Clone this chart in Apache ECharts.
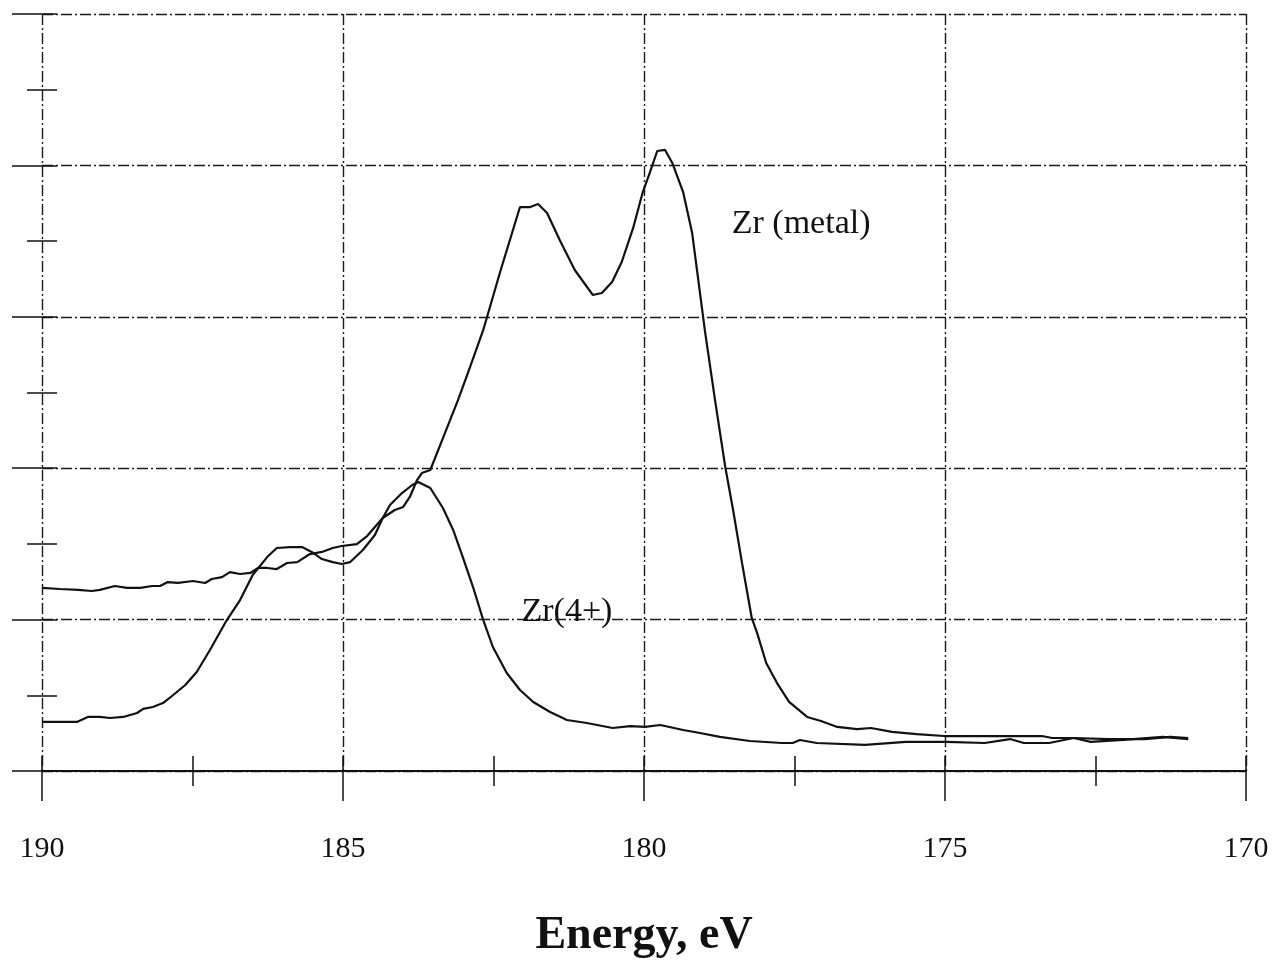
<!DOCTYPE html>
<html>
<head>
<meta charset="utf-8">
<script src="https://cdn.jsdelivr.net/npm/echarts@6/dist/echarts.min.js"></script>
<style>
html,body{margin:0;padding:0;background:#fff;}
#chart{width:1283px;height:961px;}
</style>
</head>
<body>
<div id="chart"></div>
<script>
// X axis (binding energy, eV, reversed)
const xMin = 170, xMax = 190, xInterval = 5;
const xAxisTitle = 'Energy, eV';
// Y axis (arbitrary intensity units, unlabeled)
const yMin = 0, yMax = 5, yInterval = 1;

// Zr (metal) spectrum
const metalEnergy = [190.00,189.70,189.40,189.17,189.04,188.79,188.59,188.37,188.17,188.04,187.91,187.74,187.49,187.29,187.18,187.01,186.88,186.71,186.54,186.41,186.26,186.10,185.93,185.76,185.55,185.35,185.17,185.02,184.77,184.60,184.34,184.14,184.00,183.89,183.77,183.69,183.55,183.32,183.09,182.89,182.67,182.39,182.06,181.89,181.76,181.61,181.40,181.15,180.85,180.70,180.53,180.37,180.18,180.02,179.90,179.78,179.65,179.53,179.35,179.20,178.99,178.82,178.65,178.52,178.36,178.21,178.12,177.97,177.79,177.59,177.29,177.06,176.79,176.46,176.23,175.88,175.47,175.02,174.34,173.39,173.22,172.86,172.28,171.68,171.26,170.96];
const metalIntensity = [1.209,1.202,1.196,1.189,1.196,1.222,1.209,1.209,1.222,1.222,1.248,1.242,1.255,1.242,1.268,1.281,1.314,1.301,1.308,1.341,1.341,1.334,1.374,1.380,1.433,1.447,1.473,1.486,1.499,1.552,1.671,1.724,1.744,1.810,1.922,1.968,1.988,2.219,2.450,2.668,2.913,3.296,3.725,3.725,3.745,3.686,3.507,3.309,3.144,3.157,3.230,3.362,3.587,3.824,3.956,4.095,4.102,4.016,3.824,3.553,2.913,2.450,2.008,1.724,1.347,1.011,0.911,0.713,0.581,0.456,0.357,0.330,0.291,0.277,0.284,0.258,0.244,0.231,0.231,0.231,0.218,0.218,0.211,0.211,0.225,0.218];

// Zr(4+) spectrum
const zr4Energy = [190.00,189.42,189.24,189.04,188.87,188.65,188.42,188.32,188.16,187.99,187.82,187.62,187.43,187.21,186.93,186.71,186.50,186.26,186.10,185.88,185.68,185.52,185.35,185.17,185.02,184.88,184.67,184.47,184.34,184.22,184.02,183.85,183.75,183.55,183.34,183.17,183.01,182.84,182.67,182.51,182.28,182.06,181.84,181.56,181.28,180.95,180.52,180.23,179.98,179.73,179.35,179.07,178.74,178.24,177.71,177.53,177.41,177.13,176.33,175.65,174.98,174.34,173.92,173.69,173.27,172.86,172.58,172.04,171.38,170.96];
const zr4Intensity = [0.324,0.324,0.357,0.357,0.350,0.357,0.383,0.410,0.423,0.449,0.502,0.568,0.654,0.799,0.997,1.129,1.295,1.413,1.473,1.479,1.479,1.447,1.400,1.380,1.367,1.380,1.460,1.559,1.671,1.757,1.836,1.889,1.909,1.869,1.737,1.592,1.413,1.215,0.997,0.819,0.647,0.535,0.456,0.390,0.337,0.317,0.284,0.297,0.291,0.304,0.271,0.251,0.225,0.198,0.185,0.185,0.205,0.185,0.172,0.192,0.192,0.185,0.211,0.185,0.185,0.218,0.192,0.205,0.225,0.211];

// Curve annotations (data coordinates)
const annotations = [
  {text: 'Zr (metal)', energy: 177.39, intensity: 3.615},
  {text: 'Zr(4+)', energy: 181.28, intensity: 1.050}
];

const zip = (xs, ys) => xs.map((x, i) => [x, ys[i]]);
const FONT = '"Liberation Serif", "DejaVu Serif", serif';
const INK = '#111';
const gridLine = {show: true, lineStyle: {color: '#1a1a1a', width: 1.4, type: [11, 3, 2, 3]}};

const chart = echarts.init(document.getElementById('chart'));
chart.setOption({
  backgroundColor: '#fff',
  animation: false,
  grid: {left: 42, right: 37, top: 14, bottom: 190, containLabel: false, outerBoundsMode: 'none'},
  xAxis: [
    {
      type: 'value', min: xMin, max: xMax, interval: xInterval, inverse: true,
      name: xAxisTitle, nameLocation: 'middle', nameGap: 142,
      nameTextStyle: {fontFamily: FONT, fontWeight: 'bold', fontSize: 46, color: INK},
      axisLine: {show: true, onZero: false, lineStyle: {color: INK, width: 2}},
      axisTick: {show: true, inside: false, length: 30, lineStyle: {color: INK, width: 1.5}},
      minorTick: {show: true, splitNumber: 2, length: 15, lineStyle: {color: INK, width: 1.5}},
      axisLabel: {show: true, margin: 63, fontFamily: FONT, fontSize: 30, color: INK},
      splitLine: gridLine
    },
    {
      type: 'value', min: xMin, max: xMax, interval: 2.5, inverse: true, position: 'bottom',
      axisLine: {show: false},
      axisTick: {show: true, inside: true, length: 15, lineStyle: {color: INK, width: 1.5}},
      axisLabel: {show: false}, splitLine: {show: false}
    }
  ],
  yAxis: [
    {
      type: 'value', min: yMin, max: yMax, interval: yInterval,
      axisLine: {show: false},
      axisTick: {show: true, inside: false, length: 30, lineStyle: {color: INK, width: 1.5}},
      minorTick: {show: true, splitNumber: 2, length: 15, lineStyle: {color: INK, width: 1.5}},
      axisLabel: {show: false},
      splitLine: gridLine
    },
    {
      type: 'value', min: yMin, max: yMax, interval: 0.5, position: 'left',
      axisLine: {show: false},
      axisTick: {show: true, inside: true, length: 15, lineStyle: {color: INK, width: 1.5}},
      axisLabel: {show: false}, splitLine: {show: false}
    }
  ],
  series: [
    {
      name: 'Zr (metal)', type: 'line', data: zip(metalEnergy, metalIntensity),
      showSymbol: false, symbol: 'none', lineStyle: {color: INK, width: 2.2}, z: 5,
      markPoint: {
        symbol: 'circle', symbolSize: 0, silent: true,
        label: {show: true, position: 'inside', fontFamily: FONT, fontSize: 34, color: INK, formatter: p => p.name},
        data: [{name: annotations[0].text, coord: [annotations[0].energy, annotations[0].intensity]}]
      }
    },
    {
      name: 'Zr(4+)', type: 'line', data: zip(zr4Energy, zr4Intensity),
      showSymbol: false, symbol: 'none', lineStyle: {color: INK, width: 2.2}, z: 5,
      markPoint: {
        symbol: 'circle', symbolSize: 0, silent: true,
        label: {show: true, position: 'inside', fontFamily: FONT, fontSize: 34, color: INK, formatter: p => p.name},
        data: [{name: annotations[1].text, coord: [annotations[1].energy, annotations[1].intensity]}]
      }
    }
  ]
});
</script>
</body>
</html>
